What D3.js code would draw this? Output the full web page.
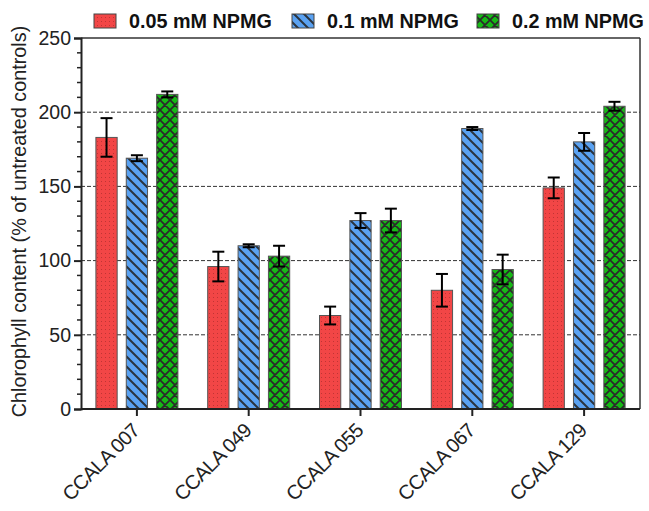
<!DOCTYPE html>
<html><head><meta charset="utf-8">
<script src="https://cdn.jsdelivr.net/npm/d3@7"></script>
<style>body{margin:0;background:#fff}svg{display:block}</style>
</head><body><svg id="c" width="649" height="511"></svg>
<script>
const categories = ["CCALA 007","CCALA 049","CCALA 055","CCALA 067","CCALA 129"];
const seriesNames = ["0.05 mM NPMG","0.1 mM NPMG","0.2 mM NPMG"];
const s005 = [183, 96, 63, 80, 149];
const s005err = [13, 10, 6, 11, 7];
const s01 = [169, 110, 127, 189, 180];
const s01err = [2, 1, 5, 1, 6];
const s02 = [212, 103, 127, 94, 204];
const s02err = [2, 7, 8, 10, 3];
const yTicks = [0, 50, 100, 150, 200, 250];
const yTitle = "Chlorophyll content (% of untreated controls)";

const values = [s005, s01, s02];
const errs = [s005err, s01err, s02err];
const colors = ["#f24646", "#5aa2f2", "#16ba16"];

const svg = d3.select("#c");
const L = 81, R = 640, T = 38, B = 409;
const x = d3.scaleBand().domain(categories).range([L, R]);
const sub = d3.scaleBand().domain([0,1,2]).range([-41, 41]).paddingInner(0.3);
const y = d3.scaleLinear().domain([0, 250]).range([B, T]);

// patterns
const defs = svg.append("defs");
const pr = defs.append("pattern").attr("id","p0").attr("patternUnits","userSpaceOnUse").attr("width",4).attr("height",4);
pr.append("rect").attr("width",4).attr("height",4).attr("fill",colors[0]);
pr.append("rect").attr("x",1).attr("y",1).attr("width",1).attr("height",1).attr("fill","#c03434");
const P = 10;
const pb = defs.append("pattern").attr("id","p1").attr("patternUnits","userSpaceOnUse").attr("width",P).attr("height",P);
pb.append("rect").attr("width",P).attr("height",P).attr("fill",colors[1]);
pb.append("path").attr("d",`M-2,-2 L${P+2},${P+2} M-2,${P-2} L2,${P+2} M${P-2},-2 L${P+2},2`).attr("stroke","#2a3440").attr("stroke-width",2);
const pg = defs.append("pattern").attr("id","p2").attr("patternUnits","userSpaceOnUse").attr("width",P).attr("height",P);
pg.append("rect").attr("width",P).attr("height",P).attr("fill",colors[2]);
pg.append("path").attr("d",`M-2,-2 L${P+2},${P+2} M-2,${P-2} L2,${P+2} M${P-2},-2 L${P+2},2 M-2,${P+2} L${P+2},-2 M-2,2 L2,-2 M${P-2},${P+2} L${P+2},${P-2}`).attr("stroke","#2b2b2b").attr("stroke-width",1.8);

// gridlines
svg.append("g").selectAll("line").data(yTicks.filter(t => t > 0 && t < 250)).join("line")
  .attr("x1", L).attr("x2", R).attr("y1", d => y(d)).attr("y2", d => y(d))
  .attr("stroke", "#333").attr("stroke-width", 1).attr("stroke-dasharray", "4,2");

// bars
categories.forEach((c, i) => {
  values.forEach((vals, s) => {
    const bx = x(c) + x.bandwidth()/2 + sub(s);
    const bw = sub.bandwidth();
    svg.append("rect").attr("x", bx).attr("y", y(vals[i])).attr("width", bw).attr("height", B - y(vals[i]))
      .attr("fill", `url(#p${s})`).attr("stroke", "#555").attr("stroke-width", 1);
    const cx = bx + bw/2, e = errs[s][i];
    const g = svg.append("g").attr("stroke", "#000").attr("stroke-width", 2);
    g.append("line").attr("x1", cx).attr("x2", cx).attr("y1", y(vals[i]+e)).attr("y2", y(vals[i]-e));
    g.append("line").attr("x1", cx-6).attr("x2", cx+6).attr("y1", y(vals[i]+e)).attr("y2", y(vals[i]+e));
    g.append("line").attr("x1", cx-6).attr("x2", cx+6).attr("y1", y(vals[i]-e)).attr("y2", y(vals[i]-e));
  });
});

// frame
svg.append("line").attr("x1", L).attr("x2", R).attr("y1", T).attr("y2", T).attr("stroke", "#333").attr("stroke-width", 1.5);
svg.append("line").attr("x1", R).attr("x2", R).attr("y1", T).attr("y2", B).attr("stroke", "#333").attr("stroke-width", 1.5);

// y axis
const ya = d3.axisLeft(y).tickValues(yTicks).tickSize(7).tickPadding(3).tickFormat(d3.format("d"));
const gy = svg.append("g").attr("transform", `translate(${L},0)`).call(ya);
gy.select(".domain").attr("stroke", "#222").attr("stroke-width", 2);
gy.selectAll(".tick line").attr("stroke", "#222").attr("stroke-width", 2);
gy.selectAll("text").attr("font-family", "Liberation Sans, Arial, sans-serif").attr("font-size", 19.5).attr("fill", "#222");
const minor = d3.range(0, 251, 10).filter(v => v % 50 !== 0);
svg.append("g").selectAll("line").data(minor).join("line")
  .attr("x1", L-4).attr("x2", L).attr("y1", d => y(d)).attr("y2", d => y(d)).attr("stroke", "#222").attr("stroke-width", 1.5);

// x axis
const xa = d3.axisBottom(x).tickSize(7).tickFormat("");
const gx = svg.append("g").attr("transform", `translate(0,${B})`).call(xa);
gx.select(".domain").attr("stroke", "#222").attr("stroke-width", 2).attr("d", `M${L},0H${R}`);
gx.selectAll(".tick line").attr("stroke", "#222").attr("stroke-width", 2);
svg.append("g").selectAll("text").data(categories).join("text")
  .attr("transform", d => `translate(${x(d) + x.bandwidth()/2 - 6},${B + 13}) rotate(-45)`)
  .attr("text-anchor", "end").attr("dy", "0.7em")
  .attr("font-family", "Liberation Sans, Arial, sans-serif").attr("font-size", 20).attr("letter-spacing", -0.6).attr("fill", "#222")
  .text(d => d);

// y title
svg.append("text").attr("transform", `translate(26,${(T+B)/2 - 2}) rotate(-90)`).attr("text-anchor", "middle")
  .attr("font-family", "Liberation Sans, Arial, sans-serif").attr("font-size", 19.8).attr("fill", "#222")
  .text(yTitle);

// legend
const legX = [94, 292, 477];
seriesNames.forEach((n, s) => {
  svg.append("rect").attr("x", legX[s]).attr("y", 14).attr("width", 22).attr("height", 14)
    .attr("fill", `url(#p${s})`).attr("stroke", "#444").attr("stroke-width", 1);
  svg.append("text").attr("x", legX[s] + 35).attr("y", 28)
    .attr("font-family", "Liberation Sans, Arial, sans-serif").attr("font-weight", "bold").attr("font-size", 19.8).attr("fill", "#111")
    .text(n);
});
</script></body></html>
